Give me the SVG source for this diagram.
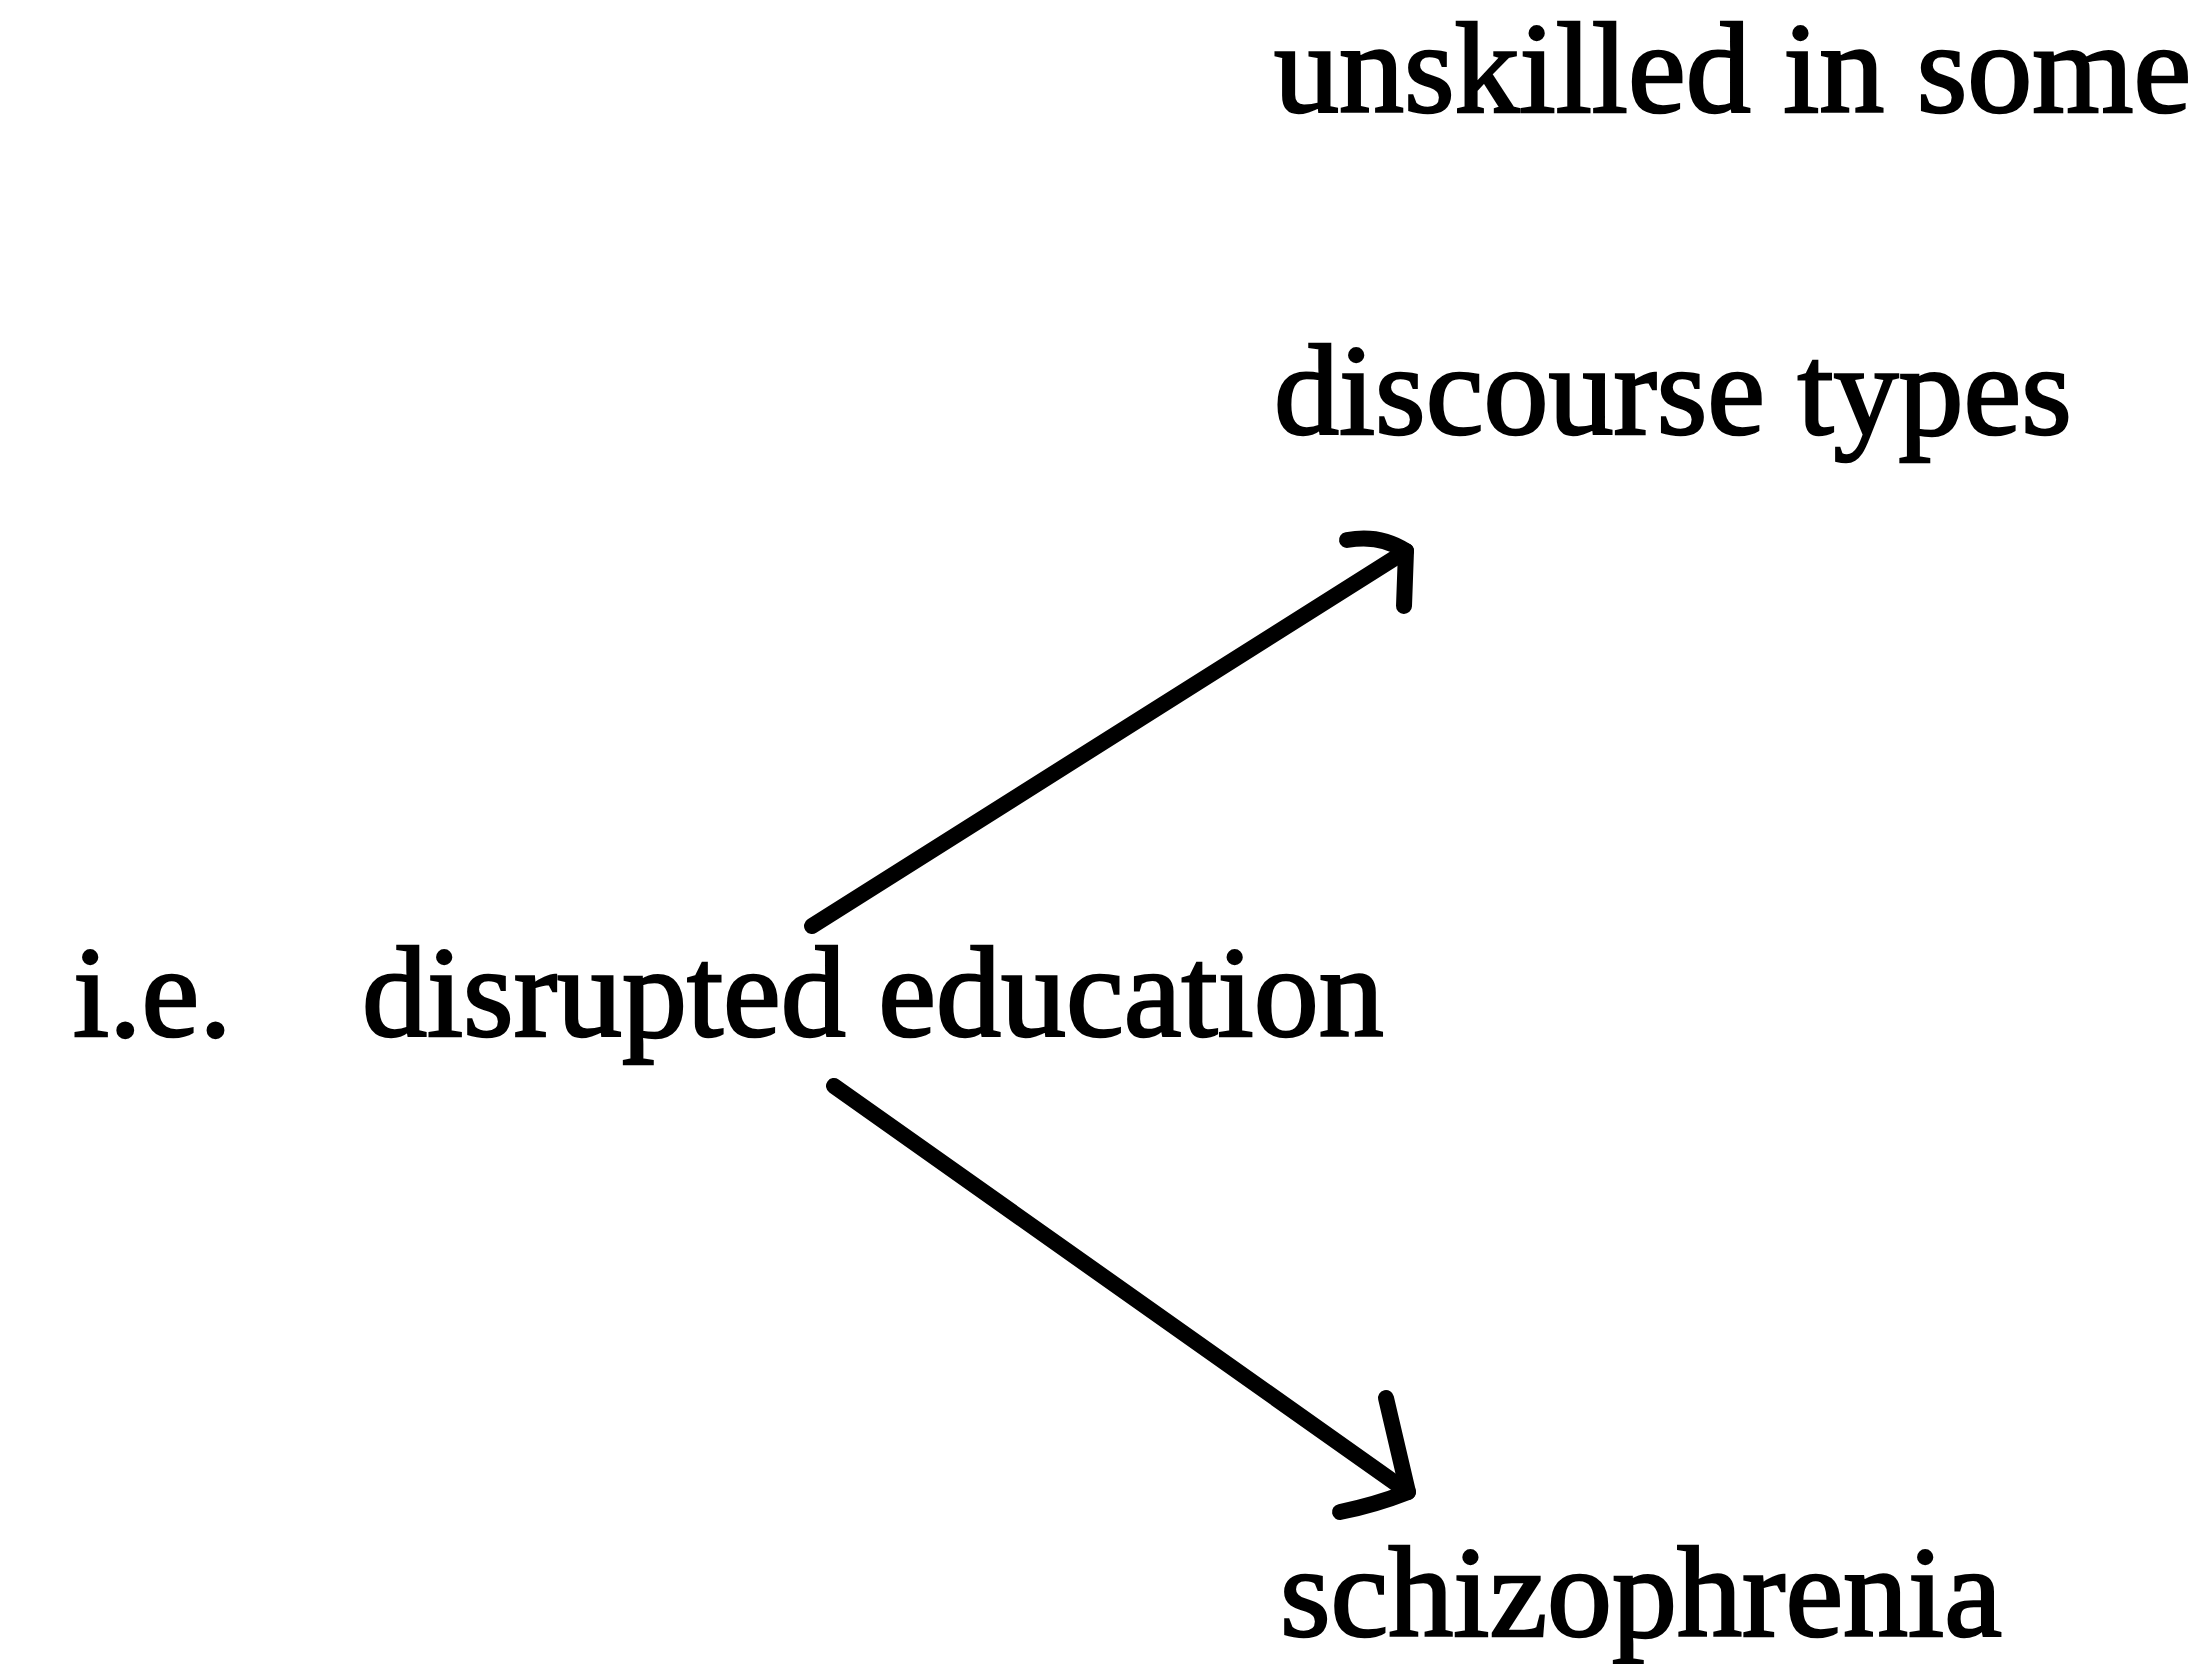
<svg xmlns="http://www.w3.org/2000/svg" width="2200" height="1664" viewBox="0 0 2200 1664">
<style>
text{font-family:"Liberation Serif","Times New Roman",serif;font-size:130px;fill:#000;stroke:#000;stroke-width:2.5}
.c{fill:none;stroke:#000;stroke-width:16;stroke-linecap:round;stroke-linejoin:round}
</style>
<rect width="2200" height="1664" fill="#fff"/>
<g id="n-unskilled"><text x="1274" y="112">unskilled in some</text><text x="1274" y="434">discourse types</text></g>
<g id="n-ie"><text x="73" y="1036">i.e.</text></g>
<g id="n-disrupted"><text x="362" y="1036">disrupted education</text></g>
<g id="n-schizo"><text x="1280" y="1636">schizophrenia</text></g>
<g id="connectors">
<path class="c" d="M812,926 L1406,551"/>
<path class="c" d="M1347,540 Q1380,534 1406,551 L1404,606"/>
<path class="c" d="M834,1086 L1408,1492"/>
<path class="c" d="M1386,1398 L1408,1492 Q1375,1505 1340,1512"/>
</g>
</svg>
